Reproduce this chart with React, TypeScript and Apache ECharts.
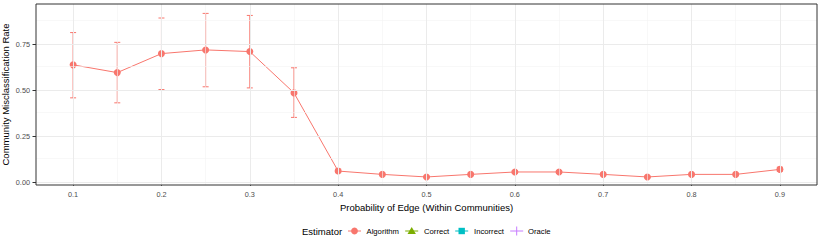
import React, { useEffect, useRef } from "react";
import * as echarts from "echarts";

const xValues = [0.1, 0.15, 0.2, 0.25, 0.3, 0.35, 0.4, 0.45, 0.5, 0.55, 0.6, 0.65, 0.7, 0.75, 0.8, 0.85, 0.9];
const meanRate = [0.637, 0.595, 0.698, 0.718, 0.709, 0.485, 0.061, 0.043, 0.029, 0.043, 0.056, 0.056, 0.043, 0.029, 0.043, 0.043, 0.07];
const lowerRate = [0.458, 0.431, 0.503, 0.518, 0.512, 0.352, 0.052, 0.04, 0.026, 0.04, 0.05, 0.05, 0.04, 0.026, 0.04, 0.04, 0.06];
const upperRate = [0.812, 0.759, 0.891, 0.916, 0.905, 0.621, 0.072, 0.046, 0.032, 0.046, 0.062, 0.062, 0.046, 0.032, 0.046, 0.046, 0.082];
const xTicks = [0.1, 0.2, 0.3, 0.4, 0.5, 0.6, 0.7, 0.8, 0.9];
const xMinor = [0.15, 0.25, 0.35, 0.45, 0.55, 0.65, 0.75, 0.85];
const yTicks = [0, 0.25, 0.5, 0.75];
const yMinor = [0.125, 0.375, 0.625, 0.875];
const legendItems = ["Algorithm", "Correct", "Incorrect", "Oracle"];
const legendColors = ["#F8766D", "#7CAE00", "#00BFC4", "#C77CFF"];

const FONT = "Liberation Sans, Arial, sans-serif";

export default function App() {
  const ref = useRef<HTMLDivElement>(null);
  useEffect(() => {
    if (!ref.current) return;
    const chart = echarts.init(ref.current, null, { renderer: "svg" });

    const gridLines = [
      ...xMinor.map((v) => ({ xAxis: v, lineStyle: { color: "#F4F4F4", width: 0.6, type: "solid" } })),
      ...yMinor.map((v) => ({ yAxis: v, lineStyle: { color: "#F4F4F4", width: 0.6, type: "solid" } })),
      ...xTicks.map((v) => ({ xAxis: v, lineStyle: { color: "#EBEBEB", width: 1, type: "solid" } })),
      ...yTicks.map((v) => ({ yAxis: v, lineStyle: { color: "#EBEBEB", width: 1, type: "solid" } })),
    ];

    const errData = xValues.map((x, i) => [x, lowerRate[i], upperRate[i]]);
    const lineData = xValues.map((x, i) => [x, meanRate[i]]);

    const legendX = [354.5, 411.7, 461.7, 516.7];
    const legendTextX = [366.5, 424, 474, 528];
    const ly = 231;
    const legendGraphics: any[] = [
      {
        type: "text",
        x: 5.5,
        y: 94.5,
        rotation: Math.PI / 2,
        style: {
          text: "Community Misclassification Rate",
          fontSize: 9.5,
          fontFamily: FONT,
          fill: "#000",
          align: "center",
          verticalAlign: "middle",
        },
      },
      {
        type: "text",
        x: 302,
        y: ly,
        style: { text: "Estimator", fontSize: 9.5, fontFamily: FONT, fill: "#000", verticalAlign: "middle" },
      },
    ];
    legendItems.forEach((name, i) => {
      const cx = legendX[i];
      const c = legendColors[i];
      legendGraphics.push({
        type: "line",
        shape: { x1: cx - 6.5, y1: ly, x2: cx + 6.5, y2: ly },
        style: { stroke: c, lineWidth: 1 },
      });
      if (i === 0) {
        legendGraphics.push({ type: "circle", shape: { cx, cy: ly, r: 3.4 }, style: { fill: c } });
      } else if (i === 1) {
        legendGraphics.push({
          type: "polygon",
          shape: { points: [[cx, ly - 4], [cx - 4.2, ly + 3], [cx + 4.2, ly + 3]] },
          style: { fill: c },
        });
      } else if (i === 2) {
        legendGraphics.push({ type: "rect", shape: { x: cx - 3.2, y: ly - 3.2, width: 6.4, height: 6.4 }, style: { fill: c } });
      } else {
        legendGraphics.push({
          type: "line",
          shape: { x1: cx, y1: ly - 4.5, x2: cx, y2: ly + 4.5 },
          style: { stroke: c, lineWidth: 1 },
        });
      }
      legendGraphics.push({
        type: "text",
        x: legendTextX[i],
        y: ly,
        style: { text: name, fontSize: 7.7, fontFamily: FONT, fill: "#000", verticalAlign: "middle" },
      });
    });

    chart.setOption({
      animation: false,
      backgroundColor: "#fff",
      textStyle: { fontFamily: FONT },
      grid: {
        left: 36,
        top: 4,
        width: 781,
        height: 181,
        containLabel: false,
        outerBoundsMode: "none",
        show: true,
        borderColor: "#333",
        borderWidth: 1,
        backgroundColor: "transparent",
        z: 10,
      },
      xAxis: {
        type: "value",
        min: 0.058,
        max: 0.942,
        name: "Probability of Edge (Within Communities)",
        nameLocation: "middle",
        nameGap: 15,
        nameTextStyle: { fontSize: 9.5, color: "#000", fontFamily: FONT },
        axisLine: { show: false },
        splitLine: { show: false },
        axisTick: { show: true, customValues: xTicks, length: 3.5, lineStyle: { color: "#333" } },
        axisLabel: {
          customValues: xTicks,
          fontSize: 7.3,
          color: "#4D4D4D",
          margin: 5.5,
          fontFamily: FONT,
          formatter: (v: number) => String(Math.round(v * 10) / 10),
        },
      },
      yAxis: {
        type: "value",
        min: -0.0146,
        max: 0.967,
        axisLine: { show: false },
        splitLine: { show: false },
        axisTick: { show: true, customValues: yTicks, length: 3.5, lineStyle: { color: "#333" } },
        axisLabel: {
          customValues: yTicks,
          fontSize: 7.3,
          color: "#4D4D4D",
          margin: 6,
          fontFamily: FONT,
          formatter: (v: number) => v.toFixed(2),
        },
      },
      graphic: legendGraphics,
      series: [
        {
          type: "line",
          data: [],
          silent: true,
          z: 0,
          markLine: {
            silent: true,
            symbol: "none",
            label: { show: false },
            animation: false,
            data: gridLines,
          },
        },
        {
          type: "custom",
          name: "errorbars",
          z: 2,
          data: errData,
          renderItem: (params: any, api: any) => {
            const x = api.value(0);
            const lo = api.coord([x, api.value(1)]);
            const hi = api.coord([x, api.value(2)]);
            const w = 3;
            const st = { stroke: "#F8766D", lineWidth: 1 };
            return {
              type: "group",
              children: [
                { type: "line", shape: { x1: lo[0], y1: lo[1], x2: hi[0], y2: hi[1] }, style: st },
                { type: "line", shape: { x1: lo[0] - w, y1: lo[1], x2: lo[0] + w, y2: lo[1] }, style: st },
                { type: "line", shape: { x1: hi[0] - w, y1: hi[1], x2: hi[0] + w, y2: hi[1] }, style: st },
              ],
            };
          },
        },
        {
          type: "line",
          name: "Algorithm",
          z: 3,
          data: lineData,
          symbol: "circle",
          symbolSize: 7,
          lineStyle: { color: "#F8766D", width: 1 },
          itemStyle: { color: "#F8766D" },
        },
      ],
    });
    return () => chart.dispose();
  }, []);
  return <div ref={ref} style={{ width: 822, height: 249, position: "absolute", left: 0, top: 0 }} />;
}
